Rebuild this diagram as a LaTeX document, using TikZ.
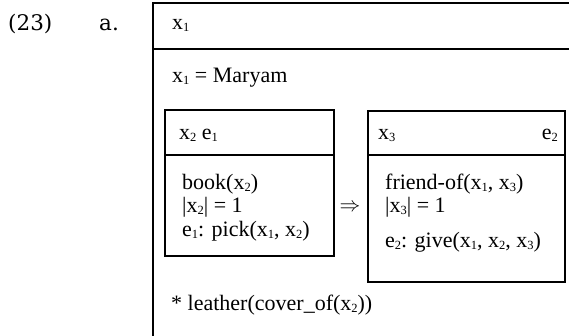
\documentclass[tikz,border=0pt]{standalone}
\usepackage{fontspec}
\setmainfont{Liberation Serif}
\newfontfamily\labfont{DejaVu Serif}
\newcommand\xsub[1]{\raisebox{-0.2ex}{\fontsize{12.5}{12.5}\selectfont #1}}
\begin{document}
\begin{tikzpicture}[x=1pt,y=-1pt,
  txt/.style={anchor=base west,inner sep=0pt,font=\fontsize{22}{23.5}\selectfont},
  lab/.style={anchor=base west,inner sep=0pt,font=\labfont\fontsize{21.5}{22}\selectfont},
  boxline/.style={line width=2pt}]
\useasboundingbox (0,0) rectangle (569,335);
% outer box
\draw[boxline] (569,3) -- (153,3) -- (153,336);
\draw[boxline] (153,49) -- (569,49);
% left inner box
\draw[boxline] (165,110) rectangle (334,256);
\draw[boxline] (165,155) -- (334,155);
% right inner box
\draw[boxline] (368,111) rectangle (565,282);
\draw[boxline] (368,155) -- (565,155);
% labels
\node[lab] (num) at (8,30) {(23)};
\node[lab] (a) at (99,30) {a.};
\node[txt] (h1) at (172,29) {x\xsub{1}};
\node[txt] (m) at (172,82) {x\xsub{1} = Maryam};
\node[txt] (h2) at (179,139) {x\xsub{2} e\xsub{1}};
\node[txt] (b1) at (182,189) {book(x\xsub{2})};
\node[txt] (b2) at (182,212.5) {|x\xsub{2}| = 1};
\node[txt] (b3) at (182,236) {e\xsub{1}: pick(x\xsub{1}, x\xsub{2})};
\node[txt] (h3) at (378,139) {x\xsub{3}};
\node[txt,anchor=base east] (h3e) at (558,139) {e\xsub{2}};
\node[txt] (f1) at (385,189) {friend-of(x\xsub{1}, x\xsub{3})};
\node[txt] (f2) at (385,212.5) {|x\xsub{3}| = 1};
\node[txt] (f3) at (385,247) {e\xsub{2}: give(x\xsub{1}, x\xsub{2}, x\xsub{3})};
\node[inner sep=0pt,font=\fontsize{20}{20}\selectfont] (arr) at (350,208) {$\Rightarrow$};
\node[txt] (lea) at (171,310) {* leather(cover\_of(x\xsub{2}))};
\end{tikzpicture}
\end{document}
